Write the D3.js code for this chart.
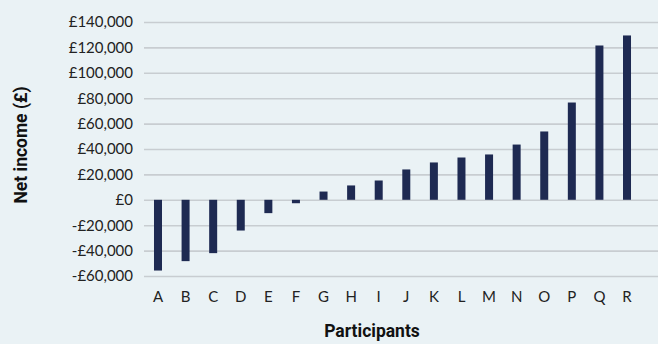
<!DOCTYPE html>
<html>
<head>
<meta charset="utf-8">
<script src="https://d3js.org/d3.v7.min.js"></script>
<style>
    body { margin: 0; background: #eaf2f5; }
    svg { display: block; }
    .tick text { font-family: Lato, sans-serif; font-size: 15px; fill: #222; }
    .axis-title { font-family: Roboto, sans-serif; font-size: 17.5px; font-weight: bold; fill: #111; }
</style>
</head>
<body>
<div id="chart-area"></div>
<script>
// Participants and their net income (£)
let participants = ["A", "B", "C", "D", "E", "F", "G", "H", "I", "J", "K", "L", "M", "N", "O", "P", "Q", "R"];
let netIncome = [-55700, -48300, -42000, -24200, -10500, -2700, 6500, 11300, 15200, 23900, 29400, 33300, 35700, 43500, 53800, 76600, 121500, 129400];
let yTicks = [-60000, -40000, -20000, 0, 20000, 40000, 60000, 80000, 100000, 120000, 140000];

let data = participants.map((p, i) => ({name: p, value: netIncome[i]}));

let margin = {top: 22, right: 0, bottom: 68, left: 144};
let width = 658 - margin.left - margin.right;
let height = 344 - margin.top - margin.bottom;

let svg = d3.select("#chart-area").append("svg")
    .attr("width", 658)
    .attr("height", 344)
    .append("g")
    .attr("transform", "translate(" + margin.left + "," + margin.top + ")");

let xScale = d3.scaleBand()
    .domain(participants)
    .range([0.2, 496.8])
    .paddingInner(0.71)
    .paddingOuter(0.355);

let yScale = d3.scaleLinear()
    .domain([-60000, 140000])
    .range([height, 0]);

let fmt = d3.format(",");
let money = d => (d < 0 ? "-£" : "£") + fmt(Math.abs(d));

// gridlines + y labels
let yAxis = svg.append("g")
    .attr("class", "y-axis")
    .call(d3.axisLeft(yScale)
        .tickValues(yTicks)
        .tickSize(-width)
        .tickPadding(11)
        .tickFormat(money));

yAxis.select(".domain").remove();
yAxis.selectAll(".tick line")
    .attr("stroke", "#c8cdd1")
    .attr("stroke-width", 1.6);

// bars
svg.selectAll("rect.bar")
    .data(data)
    .enter()
    .append("rect")
    .attr("class", "bar")
    .attr("x", d => xScale(d.name))
    .attr("width", xScale.bandwidth())
    .attr("y", d => yScale(Math.max(0, d.value)))
    .attr("height", d => Math.abs(yScale(d.value) - yScale(0)))
    .attr("fill", "#1e2a52");

// x labels
let xAxis = svg.append("g")
    .attr("class", "x-axis")
    .attr("transform", "translate(0," + height + ")")
    .call(d3.axisBottom(xScale).tickSize(0).tickPadding(15));

xAxis.select(".domain").remove();

// axis titles
svg.append("text")
    .attr("class", "axis-title")
    .attr("transform", "translate(" + (27 - margin.left) + "," + (145 - margin.top) + ") rotate(-90)")
    .attr("text-anchor", "middle")
    .text("Net income (£)");

svg.append("text")
    .attr("class", "axis-title")
    .attr("x", 372 - margin.left)
    .attr("y", 337 - margin.top)
    .attr("text-anchor", "middle")
    .text("Participants");
</script>
</body>
</html>
